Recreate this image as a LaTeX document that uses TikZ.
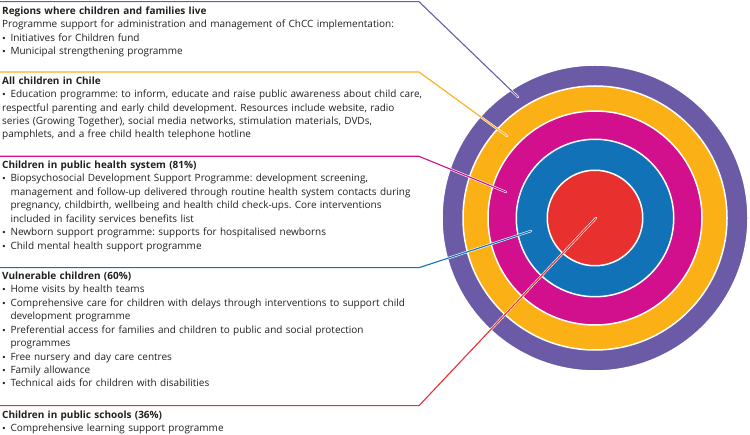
\documentclass[tikz,border=0pt]{standalone}
\usepackage{fontspec}
\setmainfont{Open Sans}
\newfontfamily\bulfont{DejaVu Sans}
\definecolor{cpurple}{HTML}{6B5BA7}
\definecolor{corange}{HTML}{FBB116}
\definecolor{cmagenta}{HTML}{D20F8C}
\definecolor{cblue}{HTML}{1272B8}
\definecolor{cred}{HTML}{E8302F}
\definecolor{ctext}{HTML}{231F20}
\newcommand{\bul}{\par\hangindent=8.3pt\hangafter=1\noindent\makebox[8.3pt][l]{\bulfont\fontsize{8}{8}\selectfont\kern-0.6pt•}}
\begin{document}
\begin{tikzpicture}[x=1pt,y=-1pt,
  ring/.style={circle,inner sep=0pt,draw=white,line width=1.5pt,minimum size=#1},
  conn/.style={draw=white,double=#1,line width=0.6pt,double distance=1.1pt,line cap=round,line join=round},
  txt/.style={anchor=base west,inner sep=0pt,text width=445pt,align=left,text=ctext,font=\fontsize{10}{13.45}\selectfont\frenchspacing}]
\useasboundingbox (0,0) rectangle (750,435);
\coordinate (c) at (595,218);
\node[ring=306pt,fill=cpurple] (r1) at (c) {};
\node[ring=264pt,fill=corange] (r2) at (c) {};
\node[ring=214pt,fill=cmagenta] (r3) at (c) {};
\node[ring=157.5pt,fill=cblue] (r4) at (c) {};
\node[ring=95.5pt,fill=cred] (r5) at (c) {};
% connectors
\coordinate (s1) at (0,1.7); \coordinate (k1) at (419,1.7); \coordinate (e1) at (518,97);
\coordinate (s2) at (0,72); \coordinate (k2) at (419,72); \coordinate (e2) at (507,136);
\coordinate (s3) at (0,156.3); \coordinate (k3) at (419,156.3); \coordinate (e3) at (506,192);
\coordinate (s4) at (0,267.7); \coordinate (k4) at (419,267.7); \coordinate (e4) at (531,231);
\coordinate (s5) at (0,405.7); \coordinate (k5) at (419,405.7); \coordinate (e5) at (596,218);
\draw[conn=cpurple] (s1) -- (k1) -- (e1);
\draw[conn=corange] (s2) -- (k2) -- (e2);
\draw[conn=cmagenta] (s3) -- (k3) -- (e3);
\draw[conn=cblue] (s4) -- (k4) -- (e4);
\draw[conn=cred] (s5) -- (k5) -- (e5);
% texts
\node[txt] (t1) at (2,14.2) {\textbf{Regions where children and families live}\par
Programme support for administration and management of ChCC implementation:
\bul Initiatives for Children fund
\bul Municipal strengthening programme};
\node[txt] (t2) at (2,84.2) {\textbf{All children in Chile}
\bul Education programme: to inform, educate and raise public awareness about child care,\newline
respectful parenting and early child development. Resources include website, radio\newline
series (Growing Together), social media networks, stimulation materials, DVDs,\newline
pamphlets, and a free child health telephone hotline};
\node[txt] (t3) at (2,168.5) {\textbf{Children in public health system (81\%)}
\bul Biopsychosocial Development Support Programme: development screening,\newline
management and follow-up delivered through routine health system contacts during\newline
pregnancy, childbirth, wellbeing and health child check-ups. Core interventions\newline
included in facility services benefits list
\bul Newborn support programme: supports for hospitalised newborns
\bul Child mental health support programme};
\node[txt] (t4) at (2,279.4) {\textbf{Vulnerable children (60\%)}
\bul Home visits by health teams
\bul Comprehensive care for children with delays through interventions to support child\newline
development programme
\bul Preferential access for families and children to public and social protection\newline
programmes
\bul Free nursery and day care centres
\bul Family allowance
\bul Technical aids for children with disabilities};
\node[txt] (t5) at (2,418.5) {\textbf{Children in public schools (36\%)}
\bul Comprehensive learning support programme};
\end{tikzpicture}
\end{document}
